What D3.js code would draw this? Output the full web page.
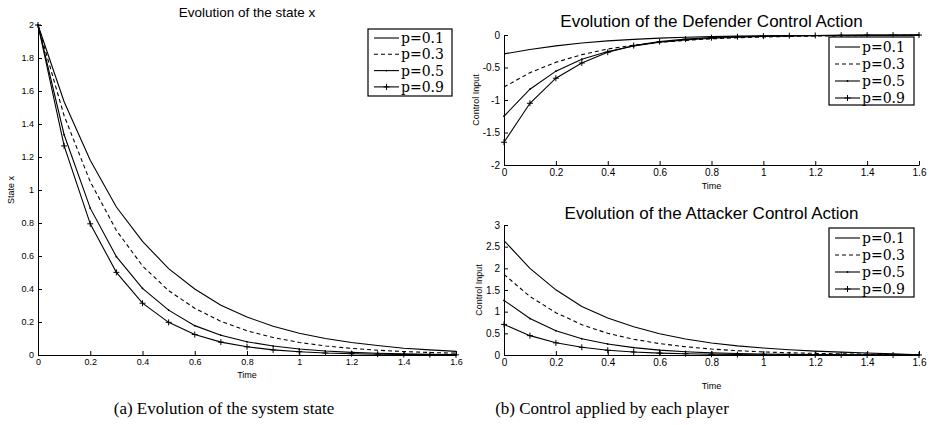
<!DOCTYPE html>
<html>
<head>
<meta charset="utf-8">
<script src="https://cdn.jsdelivr.net/npm/d3@7/dist/d3.min.js"></script>
<style>
  html, body { margin: 0; padding: 0; background: #fff; }
  svg { display: block; }
  .tick text { font-family: "Liberation Sans", Arial, sans-serif; fill: #000; }
  .domain, .tick line { stroke: #000; }
</style>
</head>
<body>
<svg id="fig" width="930" height="425"></svg>
<script>
// Sampling instants (s)
const time = [0, 0.1, 0.2, 0.3, 0.4, 0.5, 0.6, 0.7, 0.8, 0.9, 1.0, 1.1, 1.2, 1.3, 1.4, 1.5, 1.6];
const pLabels = ["p=0.1", "p=0.3", "p=0.5", "p=0.9"];

// State trajectory x(t) for each p
const stateP01 = [2, 1.535, 1.18, 0.897, 0.689, 0.523, 0.40, 0.301, 0.23, 0.174, 0.132, 0.100, 0.076, 0.058, 0.041, 0.031, 0.022];
const stateP03 = [2, 1.45, 1.05, 0.755, 0.54, 0.39, 0.283, 0.204, 0.147, 0.106, 0.076, 0.055, 0.04, 0.029, 0.021, 0.015, 0.011];
const stateP05 = [2, 1.335, 0.89, 0.596, 0.404, 0.272, 0.178, 0.12, 0.08, 0.055, 0.036, 0.024, 0.016, 0.011, 0.007, 0.005, 0.003];
const stateP09 = [2, 1.267, 0.795, 0.501, 0.314, 0.198, 0.124, 0.078, 0.05, 0.031, 0.02, 0.012, 0.008, 0.005, 0.003, 0.002, 0.001];

// Defender control input
const defP01 = [-0.29, -0.224, -0.168, -0.124, -0.09, -0.067, -0.048, -0.035, -0.025, -0.018, -0.013, -0.009, -0.007, -0.005, -0.004, -0.003, -0.002];
const defP03 = [-0.8, -0.58, -0.42, -0.302, -0.216, -0.156, -0.113, -0.082, -0.059, -0.042, -0.030, -0.022, -0.016, -0.012, -0.008, -0.006, -0.004];
const defP05 = [-1.25, -0.834, -0.556, -0.373, -0.253, -0.17, -0.111, -0.075, -0.05, -0.034, -0.023, -0.015, -0.010, -0.007, -0.004, -0.003, -0.002];
const defP09 = [-1.65, -1.05, -0.665, -0.43, -0.265, -0.163, -0.102, -0.064, -0.041, -0.026, -0.017, -0.010, -0.007, -0.004, -0.002, -0.002, -0.001];

// Attacker control input
const attP01 = [2.64, 2.0, 1.504, 1.12, 0.852, 0.652, 0.49, 0.37, 0.276, 0.21, 0.16, 0.12, 0.09, 0.066, 0.046, 0.025, 0.003];
const attP03 = [1.86, 1.35, 0.977, 0.70, 0.50, 0.363, 0.263, 0.19, 0.137, 0.099, 0.071, 0.051, 0.037, 0.027, 0.018, 0.01, 0.002];
const attP05 = [1.26, 0.841, 0.561, 0.375, 0.255, 0.171, 0.112, 0.076, 0.05, 0.035, 0.023, 0.015, 0.01, 0.007, 0.004, 0.003, 0.001];
const attP09 = [0.706, 0.447, 0.281, 0.177, 0.111, 0.07, 0.044, 0.028, 0.018, 0.011, 0.007, 0.004, 0.003, 0.002, 0.001, 0.001, 0];

// Tick values
const timeTicks = [0, 0.2, 0.4, 0.6, 0.8, 1, 1.2, 1.4, 1.6];
const stateTicks = [0, 0.2, 0.4, 0.6, 0.8, 1, 1.2, 1.4, 1.6, 1.8, 2];
const defTicks = [-2, -1.5, -1, -0.5, 0];
const attTicks = [0, 0.5, 1, 1.5, 2, 2.5, 3];

const svg = d3.select("#fig");
const serif = "'DejaVu Serif', 'Liberation Serif', serif";
const captionFont = "'Liberation Serif', 'DejaVu Serif', serif";
const sans = "'Liberation Sans', Arial, Helvetica, sans-serif";

// line style per series: solid, dashed, solid with dots, solid with plus markers
const styles = [
  { dash: null, marker: null },
  { dash: "4,3", marker: null },
  { dash: null, marker: "dot" },
  { dash: null, marker: "plus" }
];

function drawMarker(g, kind, cx, cy, size) {
  if (kind === "plus") {
    g.append("path")
      .attr("d", `M${cx - size},${cy}H${cx + size}M${cx},${cy - size}V${cy + size}`)
      .attr("stroke", "#000").attr("stroke-width", 1).attr("fill", "none");
  } else if (kind === "dot") {
    g.append("circle").attr("cx", cx).attr("cy", cy).attr("r", 0.9).attr("fill", "#000");
  }
}

function panel(cfg) {
  const x = d3.scaleLinear().domain([0, 1.6]).range([cfg.left, cfg.right]);
  const y = d3.scaleLinear().domain(cfg.yDomain).range([cfg.bottom, cfg.top]);
  const g = svg.append("g");

  // axes (inward ticks, no box)
  const xa = g.append("g").attr("transform", `translate(0,${cfg.bottom})`)
    .call(d3.axisBottom(x).tickValues(timeTicks).tickSizeInner(-4).tickSizeOuter(0)
      .tickPadding(4).tickFormat(d => String(d)));
  const ya = g.append("g").attr("transform", `translate(${cfg.left},0)`)
    .call(d3.axisLeft(y).tickValues(cfg.yTicks).tickSizeInner(-4).tickSizeOuter(0)
      .tickPadding(4).tickFormat(d => String(d)));
  [xa, ya].forEach(a => {
    a.selectAll("text").style("font-size", cfg.tickFont + "px");
    a.select(".domain").attr("stroke-width", 1);
  });

  // series
  const line = d3.line().x((d, i) => x(time[i])).y(d => y(d));
  cfg.series.forEach((vals, k) => {
    const st = styles[k];
    g.append("path").datum(vals)
      .attr("d", line)
      .attr("fill", "none").attr("stroke", "#000").attr("stroke-width", 1.1)
      .attr("stroke-dasharray", st.dash);
    if (st.marker) {
      vals.forEach((v, i) => drawMarker(g, st.marker, x(time[i]), y(v), 3));
    }
  });

  // title and labels
  svg.append("text").attr("x", (cfg.left + cfg.right) / 2).attr("y", cfg.titleY)
    .attr("text-anchor", "middle").attr("font-family", sans)
    .attr("font-size", cfg.titleFont).text(cfg.title);
  svg.append("text").attr("x", (cfg.left + cfg.right) / 2).attr("y", cfg.xLabelY)
    .attr("text-anchor", "middle").attr("font-family", sans)
    .attr("font-size", 9).text("Time");
  svg.append("text")
    .attr("transform", `translate(${cfg.yLabelX},${(cfg.top + cfg.bottom) / 2}) rotate(-90)`)
    .attr("text-anchor", "middle").attr("font-family", sans)
    .attr("font-size", 9).text(cfg.yLabel);

  // legend
  const L = cfg.legend;
  const lg = svg.append("g");
  lg.append("rect").attr("x", L.x).attr("y", L.y).attr("width", L.w).attr("height", L.h)
    .attr("fill", "#fff").attr("stroke", "#000").attr("stroke-width", 1.2);
  pLabels.forEach((lab, k) => {
    const yy = L.y + L.first + k * L.step;
    const st = styles[k];
    lg.append("line").attr("x1", L.x + 6).attr("x2", L.x + 31).attr("y1", yy).attr("y2", yy)
      .attr("stroke", "#000").attr("stroke-width", 1.1).attr("stroke-dasharray", st.dash);
    if (st.marker) drawMarker(lg, st.marker, L.x + 18.5, yy, 3);
    lg.append("text").attr("x", L.x + 33).attr("y", yy + 5)
      .attr("font-family", serif).attr("font-size", L.font).text(lab);
  });
}

panel({
  left: 38, right: 456, top: 25, bottom: 355, yDomain: [0, 2], yTicks: stateTicks,
  series: [stateP01, stateP03, stateP05, stateP09],
  title: "Evolution of the state x", titleY: 17, titleFont: 13.5,
  xLabelY: 378, yLabel: "State x", yLabelX: 14, tickFont: 9,
  legend: { x: 368, y: 29, w: 84, h: 67, first: 9, step: 16.3, font: 14 }
});

panel({
  left: 504, right: 919, top: 35, bottom: 165, yDomain: [-2, 0], yTicks: defTicks,
  series: [defP01, defP03, defP05, defP09],
  title: "Evolution of the Defender Control Action", titleY: 27, titleFont: 17,
  xLabelY: 189, yLabel: "Control Input", yLabelX: 479, tickFont: 10,
  legend: { x: 829, y: 37, w: 85, h: 68, first: 10, step: 17, font: 14 }
});

panel({
  left: 504, right: 919, top: 225, bottom: 355, yDomain: [0, 3], yTicks: attTicks,
  series: [attP01, attP03, attP05, attP09],
  title: "Evolution of the Attacker Control Action", titleY: 219, titleFont: 17,
  xLabelY: 389, yLabel: "Control Input", yLabelX: 482, tickFont: 10,
  legend: { x: 829, y: 228, w: 85, h: 69, first: 10, step: 17, font: 14 }
});

// sub-figure captions
svg.append("text").attr("x", 224).attr("y", 414).attr("text-anchor", "middle")
  .attr("font-family", captionFont).attr("font-size", 17).text("(a) Evolution of the system state");
svg.append("text").attr("x", 612).attr("y", 414).attr("text-anchor", "middle")
  .attr("font-family", captionFont).attr("font-size", 17).text("(b) Control applied by each player");
</script>
</body>
</html>
